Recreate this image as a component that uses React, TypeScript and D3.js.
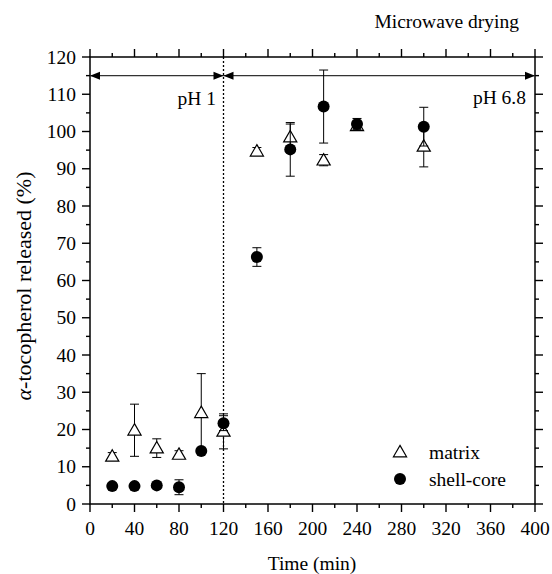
import React from "react";
import * as d3 from "d3";

const times = [20, 40, 60, 80, 100, 120, 150, 180, 210, 240, 300];
const matrixValues = [12.8, 19.8, 15.0, 13.3, 24.5, 19.5, 94.7, 98.5, 92.3, 101.5, 96.0];
const matrixErrors = [1.0, 7.0, 2.5, 1.0, 10.5, 4.7, 1.0, 3.5, 1.5, 1.0, 5.5];
const shellValues = [4.8, 4.8, 5.0, 4.5, 14.2, 21.7, 66.3, 95.2, 106.7, 102.0, 101.3];
const shellErrors = [0.8, 0.8, 0.6, 2.0, 0.5, 2.0, 2.5, 7.2, 9.8, 1.5, 5.2];
const xTicks = [0, 40, 80, 120, 160, 200, 240, 280, 320, 360, 400];
const yTicks = [0, 10, 20, 30, 40, 50, 60, 70, 80, 90, 100, 110, 120];
const phBoundary = 120;
const arrowLevel = 115;

const W = 552;
const H = 574;
const left = 90;
const right = 535;
const top = 57;
const bottom = 504;
const font = "'Liberation Serif', serif";
const fs = 19.5;

export default function App() {
  const x = d3.scaleLinear().domain([0, 400]).range([left, right]);
  const y = d3.scaleLinear().domain([0, 120]).range([bottom, top]);
  const xMinor = d3.range(20, 400, 40);
  const yMinor = d3.range(5, 120, 10);
  const tri = d3.symbol().type(d3.symbolTriangle).size(75)();
  const ay = y(arrowLevel);
  const ah = 10;
  const aw = 4;

  const errBar = (t: number, v: number, e: number, k: string) => {
    const cx = x(t);
    return (
      <g key={k} stroke="#000" strokeWidth={1}>
        <line x1={cx} x2={cx} y1={y(v - e)} y2={y(v + e)} />
        <line x1={cx - 4.5} x2={cx + 4.5} y1={y(v - e)} y2={y(v - e)} />
        <line x1={cx - 4.5} x2={cx + 4.5} y1={y(v + e)} y2={y(v + e)} />
      </g>
    );
  };

  return (
    <svg width={W} height={H} style={{ display: "block", position: "absolute", left: 0, top: 0 }} fontFamily={font}>
      <rect x={0} y={0} width={W} height={H} fill="#fff" />
      <text x={519} y={28} textAnchor="end" fontSize={fs}>Microwave drying</text>

      <rect x={left} y={top} width={right - left} height={bottom - top} fill="none" stroke="#000" strokeWidth={1.5} />

      {xTicks.map((t) => (
        <g key={"xt" + t} stroke="#000" strokeWidth={1.4}>
          <line x1={x(t)} x2={x(t)} y1={bottom} y2={bottom + 8} />
          <line x1={x(t)} x2={x(t)} y1={top} y2={top - 8} />
        </g>
      ))}
      {xMinor.map((t) => (
        <g key={"xm" + t} stroke="#000" strokeWidth={1.4}>
          <line x1={x(t)} x2={x(t)} y1={bottom} y2={bottom + 4} />
          <line x1={x(t)} x2={x(t)} y1={top} y2={top - 4} />
        </g>
      ))}
      {xTicks.map((t) => (
        <text key={"xl" + t} x={x(t)} y={bottom + 31} textAnchor="middle" fontSize={fs}>{t}</text>
      ))}

      {yTicks.map((v) => (
        <g key={"yt" + v} stroke="#000" strokeWidth={1.4}>
          <line x1={left} x2={left - 8} y1={y(v)} y2={y(v)} />
          <line x1={right} x2={right + 8} y1={y(v)} y2={y(v)} />
        </g>
      ))}
      {yMinor.map((v) => (
        <g key={"ym" + v} stroke="#000" strokeWidth={1.4}>
          <line x1={left} x2={left - 4} y1={y(v)} y2={y(v)} />
          <line x1={right} x2={right + 4} y1={y(v)} y2={y(v)} />
        </g>
      ))}
      {yTicks.map((v) => (
        <text key={"yl" + v} x={left - 14} y={y(v) + 6.5} textAnchor="end" fontSize={fs}>{v}</text>
      ))}

      <text x={312} y={570} textAnchor="middle" fontSize={fs}>Time (min)</text>
      <text transform={`translate(31, 286) rotate(-90)`} textAnchor="middle" fontSize={22}>
        <tspan fontStyle="italic">α</tspan>-tocopherol released (%)
      </text>

      <line x1={x(phBoundary)} x2={x(phBoundary)} y1={top} y2={bottom} stroke="#000" strokeWidth={1.3} strokeDasharray="2,2" />

      <line x1={x(0)} x2={x(400)} y1={ay} y2={ay} stroke="#333" strokeWidth={1.3} />
      <path d={`M${x(0)},${ay}L${x(0) + ah},${ay - aw}L${x(0) + ah},${ay + aw}Z`} fill="#000" />
      <path d={`M${x(phBoundary)},${ay}L${x(phBoundary) - ah},${ay - aw}L${x(phBoundary) - ah},${ay + aw}Z`} fill="#000" />
      <path d={`M${x(phBoundary)},${ay}L${x(phBoundary) + ah},${ay - aw}L${x(phBoundary) + ah},${ay + aw}Z`} fill="#000" />
      <path d={`M${x(400)},${ay}L${x(400) - ah},${ay - aw}L${x(400) - ah},${ay + aw}Z`} fill="#000" />

      <text x={216} y={105} textAnchor="end" fontSize={fs}>pH 1</text>
      <text x={526} y={104} textAnchor="end" fontSize={fs}>pH 6.8</text>

      {times.map((t, i) => errBar(t, matrixValues[i], matrixErrors[i], "me" + i))}
      {times.map((t, i) => (
        <path key={"mp" + i} d={tri} transform={`translate(${x(t)},${y(matrixValues[i]) + 1})`} fill="#fff" stroke="#000" strokeWidth={1.2} />
      ))}

      {times.map((t, i) => errBar(t, shellValues[i], shellErrors[i], "se" + i))}
      {times.map((t, i) => (
        <circle key={"sp" + i} cx={x(t)} cy={y(shellValues[i])} r={6} fill="#000" />
      ))}

      <path d={tri} transform={`translate(400,453)`} fill="#fff" stroke="#000" strokeWidth={1.2} />
      <text x={429} y={459} fontSize={fs}>matrix</text>
      <circle cx={400} cy={479} r={6} fill="#000" />
      <text x={429} y={486} fontSize={fs}>shell-core</text>
    </svg>
  );
}
